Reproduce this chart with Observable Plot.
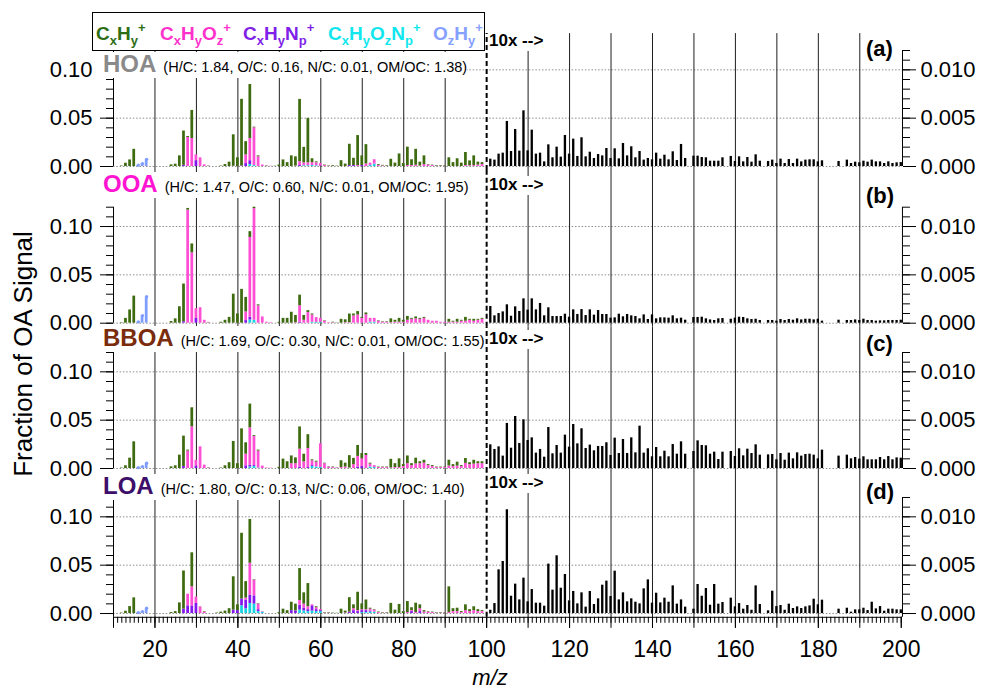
<!DOCTYPE html>
<html><head><meta charset="utf-8">
<script src="https://cdn.jsdelivr.net/npm/d3@7"></script>
<script src="https://cdn.jsdelivr.net/npm/@observablehq/plot@0.6"></script>
<style>
body{margin:0;background:#fff;}
#fig{position:relative;width:984px;height:690px;font-family:"Liberation Sans",Arial,sans-serif;overflow:hidden;background:#fff;color:#000}
.abs{position:absolute;white-space:nowrap;line-height:1}
.sb{position:relative;top:5px;font-size:13px}
.sp{position:relative;top:-8px;font-size:13px}
</style></head><body><div id="fig"></div>
<script>
// ---------------- DATA ----------------
const mzLow = [12,13,14,15,16,17,18,19,
 20,21,22,23,24,25,26,27,28,29, 30,31,32,33,34,35,36,37,38,39,
 40,41,42,43,44,45,46,47,48,49, 50,51,52,53,54,55,56,57,58,59,
 60,61,62,63,64,65,66,67,68,69, 70,71,72,73,74,75,76,77,78,79,
 80,81,82,83,84,85,86,87,88,89, 90,91,92,93,94,95,96,97,98,99];
const mzOH = [16,17,18];
const mzHigh = [101,102,103,104,105,106,107,108,109,110,111,112,113,114,115,116,117,118,119,120,
 121,122,123,124,125,126,127,128,129,130,131,132,133,134,135,136,137,138,139,140,
 141,142,143,144,145,146,147,148,149,150,151,152,153,154,155,156,157,158,159,160,
 161,162,163,164,165,166,167,168,169,170,171,172,173,174,175,176,177,178,179,180,
 181,182,183,184,185,186,187,188,189,190,191,192,193,194,195,196,197,198,199,200];

// HOA
const hoaCH = [.0005,.0034,.0068,.0178,0,0,0,0,
 0,0,0,0,.0017,.0024,.011,.0355,.001,.029,
 0,0,0,.0003,0,0,.0005,.002,.0045,.0325,
 .009,.069,.0137,.0558,.0007,.001,0,.0004,0,.0003,
 .0015,.0068,.004,.011,.0095,.0644,.016,.046,.004,.001,
 0,.0005,.0004,.0008,.0004,.006,.0025,.022,.0075,.031,
 .01,.02,0,0,.0008,.0006,.0006,.0075,.0035,.013,
 .003,.019,.006,.0165,.004,.009,.0005,.0004,.0006,.0006,
 .0006,.009,.004,.008,.0035,.0135,.005,.01,.003,.002];
const hoaCHO = [0,0,0,0,0,0,0,0,
 0,0,0,0,0,0,0,0,.03,.029,
 .006,.009,.0017,.0003,0,0,0,0,0,0,
 0,0,.009,.023,.039,.01,.0015,.0004,.0003,0,
 0,0,0,0,.0005,.004,.003,.003,.003,.003,
 .0025,.001,.0003,0,0,0,0,0,0,.001,
 0,.0026,.0025,.0045,.0012,.0006,.0003,0,0,0,
 0,.001,.001,.0013,.0005,.002,.0015,.001,.0004,.0004,
 .0003,0,0,0,0,.001,.0008,.001,.0015,.002];
const hoaCHN = [0,0,0,0,0,0,0,0,
 0,0,0,0,0,0,0,.0012,0,0,
 .006,0,0,0,0,0,0,0,0,.0003,
 0,.0005,.003,.004,0,0,0,0,0,0,
 0,0,0,0,0,.001,0,0,0,0,
 .0005,0,0,0,0,0,0,.001,.001,0,
 .001,0,0,0,0,0,0,0,0,0,
 0,0,0,0,0,0,0,0,0,0,
 0,0,0,0,0,0,0,0,0,0];
const hoaCHON = [0,0,0,0,0,0,0,0,
 0,0,0,0,0,0,0,0,0,0,
 0,0,0,0,0,0,0,0,0,0,
 0,0,0,.002,.001,0,0,0,0,0,
 0,0,0,0,0,0,.0008,.0008,.001,.0008,
 0,0,0,0,0,0,0,0,0,0,
 0,0,.001,.0025,0,0,0,0,0,0,
 0,0,0,0,0,0,0,0,0,0,
 0,0,0,0,0,0,0,0,0,0];
const hoaOH = [.0015,.003,.0075];
const hoaHi = [.00076,.00066,.00128,.00138,.00466,.00155,.00383,.00159,.00576,.00162,
 .00376,.00128,.00138,.00048,.00224,.0009,.002,.00097,.00321,.00128,
 .00283,.00104,.00297,.001,.00148,.00083,.00124,.0011,.00186,.00083,
 .00183,.00079,.00238,.0011,.00204,.0009,.00155,.00066,.00083,.00069,
 .00138,.00076,.00117,.00069,.00152,.00062,.00228,.00083,null,.00107,
 .00107,.00093,.0009,.00055,.00055,.00055,.0009,null,.00104,.00052,
 .001,.00048,.00093,.00045,.00121,.00055,null,.00052,.00066,.00031,
 .00076,.00031,.00072,.00031,.00076,.00048,.00066,.00069,.00069,.00048,
 .00059,null,null,null,.00052,null,.00066,.00031,.00045,.00038,
 .00055,.00045,.00066,.00048,.00048,.00031,.00048,.00031,.00038,.00041];

// OOA
const ooaCH = [.0005,.005,.0137,.028,0,0,0,0,
 0,0,0,0,.0017,.0045,.017,.039,.0017,.0093,
 0,0,0,.0003,0,0,.001,.003,.006,.03,
 .0096,.035,.015,.006,.0015,.001,0,0,0,0,
 .001,.005,.005,.0113,.0075,.011,.005,.002,.001,0,
 0,.0005,0,.0005,.0003,.004,.003,.009,.002,.0035,
 .001,.002,0,0,.0005,.0005,.0005,.004,.002,.004,
 .002,.004,.001,.002,.001,.001,0,0,0,0,
 0,.003,.001,.003,.001,.004,.001,.002,.001,.001];
const ooaCHO = [0,0,0,0,0,0,0,0,
 0,0,0,0,0,0,0,0,.117,.0727,
 .01,.016,.003,.0005,0,0,0,0,0,0,
 0,0,.009,.0825,.1155,.018,.0065,.001,.0005,0,
 0,0,0,0,.0005,.017,.003,.011,.0075,.005,
 .004,.002,.0005,.0005,0,0,.0005,.0005,.0075,.0085,
 .005,.0086,.004,.004,.002,.001,.001,.0005,.001,.001,
 .001,.003,.004,.0045,.004,.005,.003,.002,.002,.001,
 .001,.001,.001,.001,.002,.002,.003,.002,.003,.004];
const ooaCHN = [0,0,0,0,0,0,0,0,
 0,0,0,0,0,0,0,.0015,0,0,
 .005,0,0,0,0,0,0,0,0,0,
 0,0,.0027,.003,0,0,0,0,0,0,
 0,0,0,0,0,.001,0,0,0,0,
 0,0,0,0,0,0,0,0,0,0,
 0,0,0,0,0,0,0,0,0,0,
 0,0,0,0,0,0,0,0,0,0,
 0,0,0,0,0,0,0,0,0,0];
const ooaCHON = [0,0,0,0,0,0,0,0,
 0,0,0,0,0,0,0,0,0,0,
 0,0,0,0,0,0,0,0,0,0,
 0,0,0,.0032,.003,0,0,0,0,0,
 0,0,0,0,0,0,0,0,.001,.0008,
 .001,0,0,0,0,0,0,0,0,0,
 0,0,.001,.001,0,0,0,0,0,0,
 0,0,0,0,0,0,0,0,0,0,
 0,0,0,0,0,0,0,0,0,0];
const ooaOH = [.0014,.0079,.0274];
const ooaHi = [.00173,.00076,.001,.00117,.0019,.00072,.00169,.00121,.00252,.00135,
 .00252,.00138,.00204,.00076,.00159,.00069,.00069,.00069,.00093,.00062,
 .00138,.0009,.00141,.00079,.00138,.00083,.00131,.0009,.0009,.00052,
 .00055,.00093,.00066,.0009,.00076,.00069,.00045,.00086,.00038,.00086,
 .00045,.00055,.00055,.00052,.00076,.00045,.00052,.00031,null,.00059,
 .00059,.00062,.00045,.00034,.00028,.00045,.00048,null,.00041,.00052,
 .00062,.00059,.00045,.00038,.00041,.00028,null,.00028,.00028,.00021,
 .00038,.00028,.00038,.00031,.00045,.00034,.00041,.00041,.00034,.00041,
 .00021,null,null,null,.00031,null,.00028,.00028,.00034,.00028,
 .00041,.00028,.00028,.00021,.00024,.00024,.00028,.00028,.00028,.00031];

// BBOA
const bbCH = [.0005,.0028,.0107,.0276,0,0,0,0,
 0,0,0,0,.0017,.0028,.0138,.0315,.001,.0197,
 0,0,0,.0003,0,0,.0005,.0028,.006,.028,
 .005,.041,.0118,.0246,.001,.001,0,0,0,0,
 .0012,.0097,.007,.008,.006,.023,.008,.0143,.001,.001,
 0,.0005,.0003,.0005,.0003,.007,.004,.0128,.0065,.0113,
 .0055,.002,.001,0,.0005,.0005,.0005,.009,.004,.009,
 .002,.008,.002,.006,.002,.003,.001,.001,.0005,.0005,
 .0005,.006,.002,.004,.001,.005,.002,.004,.002,.002];
const bbCHO = [0,0,0,0,0,0,0,0,
 0,0,0,0,0,0,0,0,.018,.0431,
 .006,.0224,.0035,.0005,0,0,0,0,0,0,
 0,0,.012,.0385,.03,.0175,.0025,.0005,.0003,0,
 0,0,0,.005,.005,.0185,.0068,.0197,.005,.005,
 .0245,.005,.0015,.001,.0005,.001,.0015,.0005,.004,.011,
 .008,.0135,.003,.002,.001,.001,.001,.0005,.001,.001,
 .002,.005,.003,.0047,.005,.0055,.003,.002,.001,.001,
 .001,.0026,.002,.0025,.002,.0053,.004,.0045,.005,.005];
const bbCHN = [0,0,0,0,0,0,0,0,
 0,0,0,0,0,0,0,.002,0,0,
 .0025,0,0,0,0,0,0,0,0,0,
 0,0,.0028,.002,.001,0,0,0,0,0,
 0,0,0,0,0,.0015,0,.001,.001,0,
 0,0,0,0,0,0,0,0,0,.0015,
 .002,0,0,0,0,0,0,0,0,0,
 0,0,0,0,0,0,0,0,0,0,
 0,0,0,0,0,0,0,0,0,0];
const bbCHON = [0,0,0,0,0,0,0,0,
 0,0,0,0,0,0,0,0,0,0,
 0,0,0,0,0,0,0,0,0,0,
 0,0,0,.0015,.002,.0005,0,0,0,0,
 0,0,0,0,0,0,0,0,.002,.0015,
 .001,0,0,0,0,0,0,0,0,0,
 0,0,.0015,.001,0,0,0,0,0,0,
 0,0,0,0,0,0,0,0,0,0,
 0,0,0,0,0,0,0,0,0,0];
const bbOH = [.001,.002,.0055];
const bbHi = [.00245,.00197,.00224,.00128,.00466,.0021,.00538,.00259,.00504,.0029,
 .00317,.00159,.00197,.00117,.00424,.00152,.00238,.00159,.00345,.00221,
 .00455,.00255,.00411,.00207,.00242,.00183,.00228,.00228,.00266,.00135,
 .00314,.00155,.003,.00155,.00317,.00162,.00438,.00159,.00204,.00121,
 .00217,.00121,.00179,.00121,.00248,.00148,.00276,.00148,null,.00176,
 .00286,.00238,.00235,.00148,.00169,.00093,.00169,null,.00176,.00124,
 .00204,.00131,.002,.00155,.00245,.00138,null,.00141,.00145,.0009,
 .00155,.00086,.00159,.001,.00162,.00128,.00145,.00148,.00138,.001,
 .0019,null,null,null,.00128,null,.00138,.001,.00114,.00097,
 .00121,.0009,.0009,.0009,.00114,.0009,.00124,.0009,.0011,.00107];

// LOA
const loCH = [.0005,.0024,.0072,.0162,0,0,0,0,
 0,0,0,0,.001,.002,.011,.0395,0,.0352,
 0,.0003,.0005,0,0,.0005,.0015,.0025,.005,.0345,
 .006,.068,.017,.0453,.0005,.0005,0,0,0,0,
 .001,.0045,.003,.0087,.007,.033,.0117,.024,0,.001,
 0,.0005,.0005,.0005,.0003,.0045,.002,.0149,.004,.019,
 .006,.01,.001,.0005,.0005,.0005,.0005,.0105,.0035,.0094,
 .002,.0114,.003,.0097,.004,.0015,.0005,.0005,.0005,.0005,
 .0005,.0266,.003,.0035,.001,.006,.002,.004,.002,.001];
const loCHO = [0,0,0,0,0,0,0,0,
 0,0,0,0,0,0,0,0,.012,.0197,
 .0066,.0066,.0015,0,0,0,0,0,0,0,
 0,0,.002,.033,.0162,.0057,.0005,0,0,0,
 0,0,0,0,0,.005,.004,.003,.001,.002,
 .001,.0005,.0005,0,0,0,.0005,.0005,.002,.001,
 .001,.001,.002,.002,.001,.0005,.0005,0,0,0,
 0,.001,.001,.001,.003,.0015,.0015,.001,.0005,.0005,
 .0005,.001,.002,.002,.001,.003,.002,.003,.002,.002];
const loCHN = [0,0,0,0,0,0,0,0,
 0,0,0,0,0,0,0,.0045,.008,.0079,
 .0104,0,0,0,0,0,0,0,0,.0035,
 .003,.007,.009,.0086,.0086,.002,0,0,0,0,
 0,0,0,.003,.0027,.005,.003,.002,.0055,.002,
 .001,0,0,0,0,0,0,.001,.003,.002,
 .002,.002,.001,0,0,0,0,0,0,0,
 0,0,.002,0,.002,0,0,0,0,0,
 0,0,0,0,0,0,0,0,0,0];
const loCHON = [0,0,0,0,0,0,0,0,
 0,0,0,0,0,0,0,0,0,0,
 0,0,0,0,0,0,0,0,0,0,
 0,.008,.005,.0104,.0097,.002,.0015,0,0,0,
 0,0,0,0,0,.0035,.0027,.002,.0025,.002,
 .002,0,0,0,0,0,0,0,0,0,
 .001,.001,.0015,.0015,0,0,0,0,0,0,
 0,0,0,0,0,0,0,0,0,0,
 0,0,0,0,0,0,0,0,0,0];
const loOH = [.001,.002,.0055];
const loHi = [.00034,.00103,.00452,.00538,.01073,.00179,.00304,.00141,.00366,.00121,
 .00248,.00107,.00107,.00076,.00511,.00242,.00597,.00262,.00404,.00131,
 .00228,.001,.00214,.00066,.00228,.00093,.00152,.00293,.00335,.00176,
 .00438,.00141,.00214,.00121,.00152,.00117,.001,.00255,.00348,.00107,
 .0021,.0011,.00159,.00117,.00286,.00097,.00141,.00066,null,.00045,
 .003,.00179,.00259,.00086,.003,.00097,.00114,null,.00159,.00069,
 .00103,.00045,.00083,.00034,.00286,.00093,null,.00028,.00231,.00072,
 .00083,.00034,.00097,.00052,.00069,.00052,.00069,.00079,.00148,.0009,
 .00138,null,null,null,.00045,null,.00055,.00014,.00038,.00038,
 .00055,.00031,.00117,.00048,.00072,.00024,.00045,.00045,.00038,.00038];

const panelNames = ["HOA","OOA","BBOA","LOA"];
const panelStats = ["(H/C: 1.84, O/C: 0.16, N/C: 0.01, OM/OC: 1.38)",
 "(H/C: 1.47, O/C: 0.60, N/C: 0.01, OM/OC: 1.95)",
 "(H/C: 1.69, O/C: 0.30, N/C: 0.01, OM/OC: 1.55)",
 "(H/C: 1.80, O/C: 0.13, N/C: 0.06, OM/OC: 1.40)"];
const panelTags = ["(a)","(b)","(c)","(d)"];
const yTicks = [0, 0.05, 0.10];
const xLabelTicks = [20,40,60,80,100,120,140,160,180,200];

// ---------------- STYLE / LAYOUT ----------------
const famStyle = [
  {key:"CHON", color:"#17d3e2"},
  {key:"CHN", color:"#8317ee"},
  {key:"CHO", color:"#ff4fd4"},
  {key:"CH", color:"#3f6b10"}
];
const ohColor = "#7f9dff";
const nameColors = ["#8a8a8a","#ff14d2","#7a2c0c","#3d0f6a"];
const PX = 967; // px per unit of y
const layout = [
  {top:0, height:170, mt:50, mb:4, ymin:0, lineTop:0.1375},
  {top:170, height:156.7, mt:36.7, mb:4, ymin:0, lineTop:0.158},
  {top:326.7, height:145, mt:25, mb:4, ymin:0, lineTop:0.146},
  {top:471.7, height:218.3, mt:25, mb:73.5, ymin:-0.0039, lineTop:0.146}
];
const nameBase = [72, 192, 346.5, 494.5];
const tenxBase = [46, 190, 344, 488];
const tagBase = [57, 204, 352, 500];

const sets = [
  {CH:hoaCH,CHO:hoaCHO,CHN:hoaCHN,CHON:hoaCHON,OH:hoaOH,hi:hoaHi},
  {CH:ooaCH,CHO:ooaCHO,CHN:ooaCHN,CHON:ooaCHON,OH:ooaOH,hi:ooaHi},
  {CH:bbCH,CHO:bbCHO,CHN:bbCHN,CHON:bbCHON,OH:bbOH,hi:bbHi},
  {CH:loCH,CHO:loCHO,CHN:loCHN,CHON:loCHON,OH:loOH,hi:loHi}
];
sets.forEach((s,k)=>{["CH","CHO","CHN","CHON"].forEach(f=>{ if(s[f].length!==mzLow.length) throw new Error("len "+k+f+" "+s[f].length);}); if(s.hi.length!==mzHigh.length) throw new Error("hi len "+k+" "+s.hi.length);});

const fig = document.getElementById("fig");
const gridX = [20,30,40,50,60,70,80,90,110,120,130,140,150,160,170,180,190];
const minorY = d3.range(0, 0.1205, 0.01);
const X0 = 10, X1 = 200.3;
const font = "'Liberation Sans', Arial, sans-serif";

sets.forEach((s, k) => {
  const L = layout[k];
  const rows = [];
  mzLow.forEach((m, i) => {
    let base = 0;
    famStyle.forEach(f => {
      const v = s[f.key][i];
      if (v > 0) { rows.push({mz:m, fam:f.key, y1:base, y2:base+v}); base += v; }
    });
  });
  const oh = mzOH.map((m,i)=>({mz:m, v:s.OH[i]}));
  const hi = mzHigh.map((m,i)=>({mz:m, v:s.hi[i]})).filter(d=>d.v!=null);
  const lineBot = k===3 ? L.ymin : -L.mb/PX;
  const marks = [
    Plot.ruleY(yTicks, {x1:X0, x2:X1, stroke:"#8c8c8c", strokeWidth:1, strokeDasharray:"1.5,1.8"}),
    Plot.ruleX(gridX, {y1:lineBot, y2:L.lineTop, stroke:"#1e1e1e", strokeWidth:1}),
    ...famStyle.map(f => Plot.rect(rows.filter(r=>r.fam===f.key), {x1:d=>d.mz-0.33, x2:d=>d.mz+0.33, y1:"y1", y2:"y2", fill:f.color})),
    Plot.rect(oh, {x1:d=>d.mz-0.33, x2:d=>d.mz+0.33, y1:d=>0, y2:"v", fill:ohColor}),
    Plot.dot(oh, {x:"mz", y:"v", r:1.6, fill:ohColor}),
    Plot.rect(hi, {x1:d=>d.mz-0.28, x2:d=>d.mz+0.28, y1:d=>0, y2:d=>d.v*10, fill:"#000"}),
    Plot.ruleX([X0], {y1:L.ymin, y2:0.12, stroke:"#000", strokeWidth:1}),
    Plot.ruleX([X1], {y1:L.ymin, y2:0.12, stroke:"#000", strokeWidth:1}),
    Plot.axisY({anchor:"left", ticks:yTicks, tickSize:13, tickPadding:8, tickFormat:d=>d.toFixed(2), fontSize:22, label:null}),
    Plot.axisY({anchor:"left", ticks:minorY, tickSize:7, tickFormat:()=>"", label:null}),
    Plot.axisY({anchor:"right", ticks:yTicks, tickSize:13, tickPadding:5, tickFormat:d=>(d/10).toFixed(3), fontSize:22, label:null}),
    Plot.axisY({anchor:"right", ticks:minorY, tickSize:7, tickFormat:()=>"", label:null})
  ];
  if (k === 3) {
    marks.push(
      Plot.ruleY([L.ymin], {x1:X0, x2:X1, stroke:"#000", strokeWidth:1}),
      Plot.axisX({ticks:d3.range(10,201,1), tickSize:6, tickFormat:()=>"", label:null}),
      Plot.axisX({ticks:d3.range(10,201,10), tickSize:11, tickFormat:()=>"", label:null}),
      Plot.axisX({ticks:xLabelTicks, tickSize:11, tickPadding:12, tickFormat:d=>String(d), fontSize:23, label:null})
    );
  }
  const svg = Plot.plot({
    width:984, height:L.height,
    marginLeft:113, marginRight:82, marginTop:L.mt, marginBottom:L.mb,
    x:{domain:[X0,X1], axis:null},
    y:{domain:[L.ymin,0.12], axis:null},
    style:{fontFamily:font, fontSize:"22px", color:"#000", background:"transparent", overflow:"visible"},
    marks
  });
  const wrap = document.createElement("div");
  wrap.style.cssText = `position:absolute;left:0;top:${L.top}px;width:984px;height:${L.height}px;`;
  wrap.appendChild(svg);
  fig.appendChild(wrap);
});

function addDiv(html, css){
  const d = document.createElement("div");
  d.className = "abs";
  d.innerHTML = html;
  d.style.cssText += css;
  fig.appendChild(d);
  return d;
}

// Panel labels
panelNames.forEach((n,k)=>{
  const fs = 24;
  addDiv(`<span style="font-weight:bold;color:${nameColors[k]};font-size:${fs}px">${n}</span><span style="font-size:14.5px;margin-left:7px">${panelStats[k]}</span>`,
    `left:100px;top:${nameBase[k]-0.8465*fs}px;font-size:${fs}px;background:#fff;padding:0 0 2px 3px;`);
  addDiv(`10x --&gt;`, `left:488px;top:${tenxBase[k]-0.8465*17}px;font-size:17px;font-weight:bold;background:#fff;padding:0 2px 2px 1px;`);
  addDiv(panelTags[k], `left:866px;top:${tagBase[k]-0.8465*22}px;font-size:22px;font-weight:bold;`);
});

// Dashed separator line at m/z 100, drawn with the same x scale as the panels, above the label boxes
sets.forEach((s,k)=>{
  const L = layout[k];
  const lineBot = k===3 ? L.ymin : -L.mb/PX;
  const svg = Plot.plot({
    width:984, height:L.height,
    marginLeft:113, marginRight:82, marginTop:L.mt, marginBottom:L.mb,
    x:{domain:[X0,X1], axis:null},
    y:{domain:[L.ymin,0.12], axis:null},
    style:{background:"transparent", overflow:"visible"},
    marks:[Plot.ruleX([100], {y1:lineBot, y2:L.lineTop, stroke:"#000", strokeWidth:2, strokeDasharray:"5,3"})]
  });
  const wrap = document.createElement("div");
  wrap.style.cssText = `position:absolute;left:0;top:${L.top}px;width:984px;height:${L.height}px;pointer-events:none;`;
  wrap.appendChild(svg);
  fig.appendChild(wrap);
});

// Legend
addDiv("", "left:92px;top:12px;width:391px;height:37px;border:1.5px solid #000;background:#fff;");
const legendItems = [
  {x:96, color:"#2d6e14", parts:[["C","x"],["H","y"]]},
  {x:160, color:"#ff33cc", parts:[["C","x"],["H","y"],["O","z"]]},
  {x:243, color:"#7f1fe8", parts:[["C","x"],["H","y"],["N","p"]]},
  {x:328, color:"#10e6ee", parts:[["C","x"],["H","y"],["O","z"],["N","p"]]},
  {x:433, color:"#86a0ff", parts:[["O","z"],["H","y"]]}
];
legendItems.forEach(it=>{
  const html = it.parts.map(([a,b])=>`${a}<span class="sb">${b}</span>`).join("") + `<span class="sp">+</span>`;
  addDiv(html, `left:${it.x}px;top:${40-0.8465*19}px;font-size:19px;font-weight:bold;color:${it.color};`);
});

// Axis titles
addDiv("Fraction of OA Signal", "left:23px;top:354px;font-size:26px;transform:translate(-50%,-50%) rotate(-90deg);");
addDiv("<i>m/z</i>", `left:490px;top:${686-0.8465*22}px;font-size:22px;transform:translateX(-50%);`);
</script></body></html>
